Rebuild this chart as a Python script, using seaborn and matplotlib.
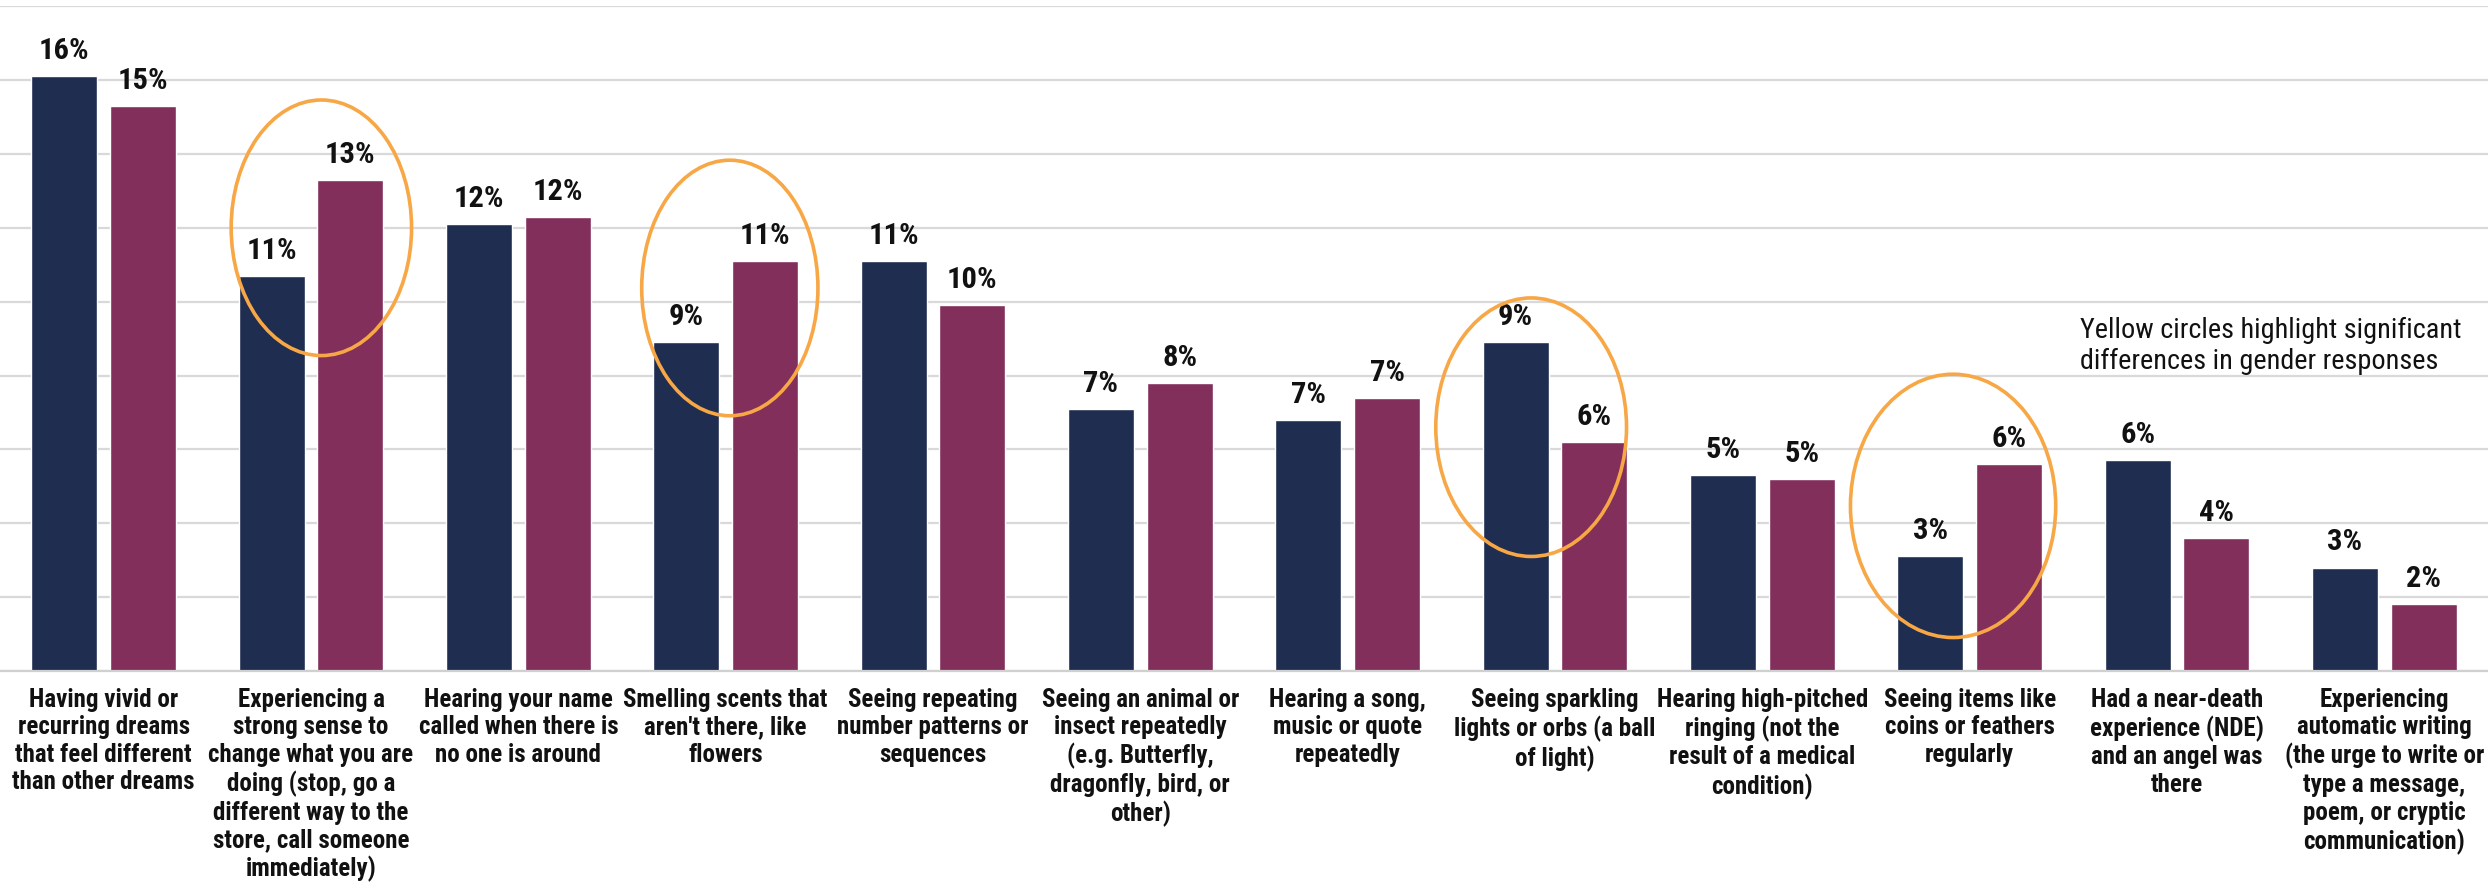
import matplotlib
matplotlib.use("Agg")
import matplotlib.pyplot as plt
from matplotlib import font_manager
from matplotlib.patches import Ellipse
import seaborn as sns
import numpy as np
import pandas as pd

categories = [
    "Having vivid or\nrecurring dreams\nthat feel different\nthan other dreams",
    "Experiencing a\nstrong sense to\nchange what you are\ndoing (stop, go a\ndifferent way to the\nstore, call someone\nimmediately)",
    "Hearing your name\ncalled when there is\nno one is around",
    "Smelling scents that\naren't there, like\nflowers",
    "Seeing repeating\nnumber patterns or\nsequences",
    "Seeing an animal or\ninsect repeatedly\n(e.g. Butterfly,\ndragonfly, bird, or\nother)",
    "Hearing a song,\nmusic or quote\nrepeatedly",
    "Seeing sparkling\nlights or orbs (a ball\nof light)",
    "Hearing high-pitched\nringing (not the\nresult of a medical\ncondition)",
    "Seeing items like\ncoins or feathers\nregularly",
    "Had a near-death\nexperience (NDE)\nand an angel was\nthere",
    "Experiencing\nautomatic writing\n(the urge to write or\ntype a message,\npoem, or cryptic\ncommunication)",
]
men = [16.1, 10.7, 12.1, 8.9, 11.1, 7.1, 6.8, 8.9, 5.3, 3.1, 5.7, 2.8]
women = [15.3, 13.3, 12.3, 11.1, 9.9, 7.8, 7.4, 6.2, 5.2, 5.6, 3.6, 1.8]
series = ["Men", "Women"]

# significant differences: category index, ellipse centre offset / size (data units)
highlight_idx = [1, 3, 7, 9]
highlight_dx = [0.05, 0.02, -0.115, -0.08]
highlight_cy = [12.0, 10.37, 6.6, 4.47]
highlight_w = [0.87, 0.85, 0.92, 0.99]
highlight_h = [6.92, 6.92, 7.0, 7.13]
note = "Yellow circles highlight significant\ndifferences in gender responses"

navy = "#1F2D50"
maroon = "#832F5C"
orange = "#F7A745"

df = pd.DataFrame({
    "category": categories * 2,
    "value": men + women,
    "gender": [series[0]] * len(men) + [series[1]] * len(women),
})

# narrow font close to Calibri, whatever is installed
installed = {f.name for f in font_manager.fontManager.ttflist}
prefs = [("Liberation Sans Narrow", 19), ("Roboto Condensed", 18),
         ("DejaVu Sans Condensed", 15), ("Lato", 16.5), ("Roboto", 15), ("DejaVu Sans", 13)]
font, fs = next((n, s) for n, s in prefs if n in installed)

sns.set_style("white")
plt.rcParams["font.family"] = [font, "DejaVu Sans"]

fig = plt.figure(figsize=(24.88, 8.84), dpi=100)
ax = fig.add_axes([0.0, 0.241, 1.0, 0.752])

sns.barplot(data=df, x="category", y="value", hue="gender",
            palette=[navy, maroon], width=0.76, gap=0.16,
            saturation=1, legend=False, ax=ax)

for cont in ax.containers:
    ax.bar_label(cont, labels=[f"{round(v)}%" for v in cont.datavalues],
                 padding=8, fontsize=fs * 1.22, fontweight="bold", color="#111111")

for i, dx, cy, w, h in zip(highlight_idx, highlight_dx, highlight_cy,
                           highlight_w, highlight_h):
    ax.add_patch(Ellipse((i + dx, cy), w, h, fill=False,
                         edgecolor=orange, lw=2.6, zorder=5))

ax.text(9.53, 8.8, note, ha="left", va="center", fontsize=fs * 1.13,
        linespacing=1.15, color="#111111")

ax.set_xlim(-0.5, len(categories) - 0.5)
ax.set_ylim(0, 18)
ax.set_yticks(np.arange(0, 19, 2))
ax.set_yticklabels([])
ax.yaxis.grid(True, color="#D9D9D9", lw=1.6)
ax.set_axisbelow(True)
ax.tick_params(axis="both", length=0)
ax.tick_params(axis="x", pad=12)
ax.set_xticks(range(len(categories)))
ax.set_xticklabels(categories, fontsize=fs, fontweight="bold",
                   linespacing=1.19, color="#111111")
ax.set_xlabel("")
ax.set_ylabel("")
for s in ["top", "left", "right"]:
    ax.spines[s].set_visible(False)
ax.spines["bottom"].set_color("#D0D0D0")
ax.spines["bottom"].set_linewidth(1.6)

fig.savefig("out.png", dpi=100)
